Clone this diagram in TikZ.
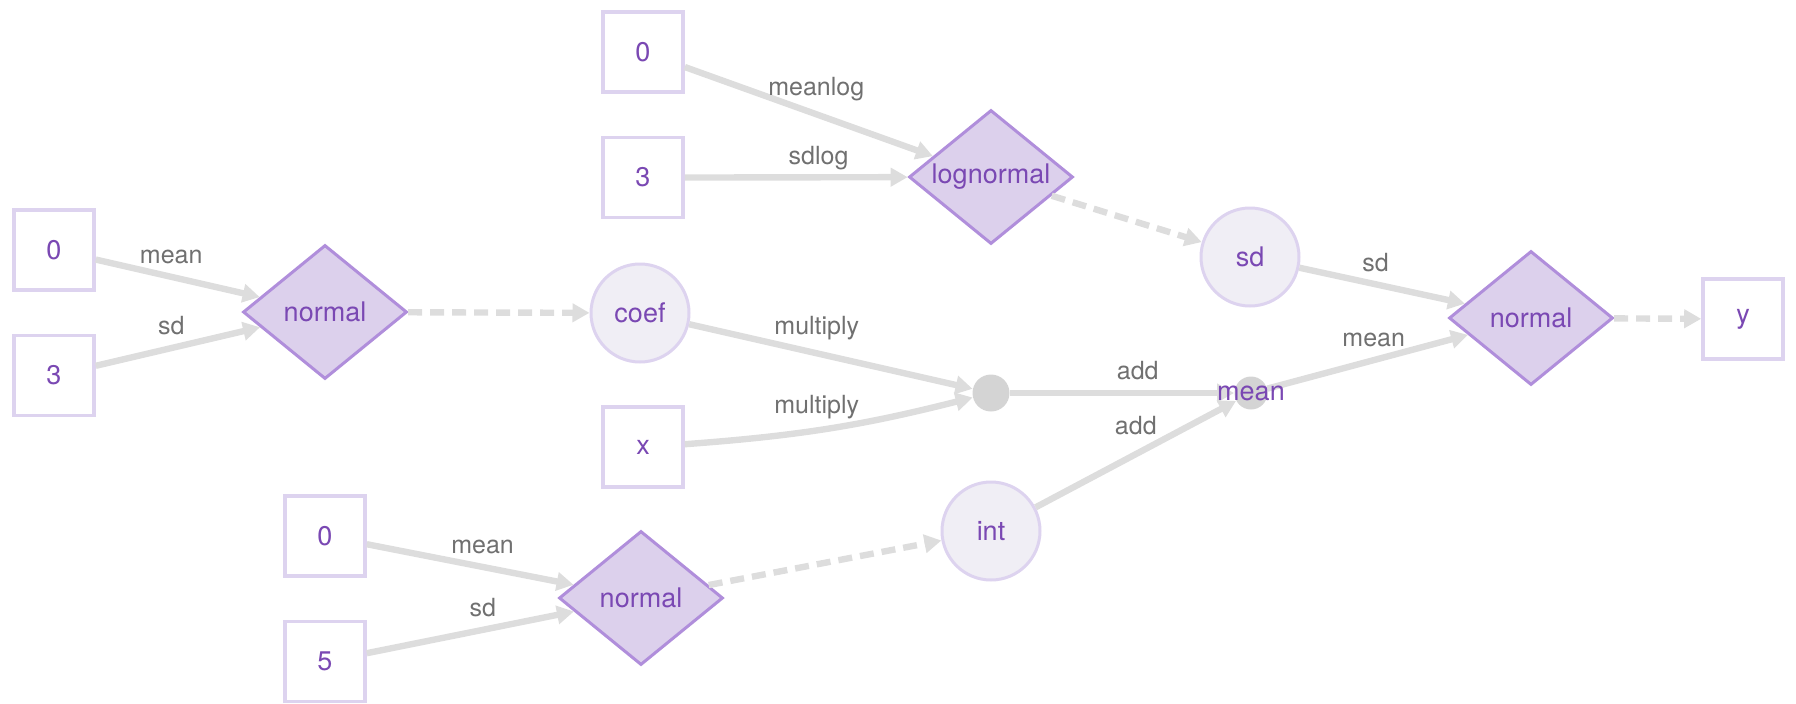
\documentclass[tikz,border=0pt]{standalone}
\usepackage{fontspec}
\setmainfont{TeX Gyre Heros}
\usetikzlibrary{arrows.meta,positioning,shapes.geometric}

\definecolor{boxline}{HTML}{DDD3EF}
\definecolor{nodetext}{HTML}{7A48B3}
\definecolor{distfill}{HTML}{DCD0EC}
\definecolor{distline}{HTML}{B08EDB}
\definecolor{varfill}{HTML}{F0EEF5}
\definecolor{edgegray}{HTML}{DDDDDD}
\definecolor{dotgray}{HTML}{D4D4D4}
\definecolor{lblgray}{HTML}{707070}

\begin{document}
\begin{tikzpicture}[
  x=0.5pt, y=-0.5pt,
  databox/.style={rectangle, draw=boxline, line width=1.8pt, fill=white,
                  minimum size=40pt, inner sep=0pt, text=nodetext,
                  font=\fontsize{13.5}{16}\selectfont},
  distbox/.style={diamond, draw=distline, line width=1.5pt, fill=distfill,
                  shape aspect=1.2, minimum width=82pt, minimum height=67pt,
                  inner sep=0pt, text=nodetext,
                  font=\fontsize{13.5}{16}\selectfont},
  varnode/.style={circle, draw=boxline, line width=1.5pt, fill=varfill,
                  minimum size=49pt, inner sep=0pt, text=nodetext,
                  font=\fontsize{13.5}{16}\selectfont},
  opdot/.style={circle, fill=dotgray, inner sep=0pt},
  vtxt/.style={text=nodetext, inner sep=0pt, font=\fontsize{13.5}{16}\selectfont},
  elab/.style={text=lblgray, inner sep=0pt, text depth=0pt, above=5pt,
               font=\fontsize{12.5}{15}\selectfont},
  arr/.style={draw=edgegray, line width=3.2pt, -{Triangle[length=8.5pt,width=9pt]}},
  darr/.style={arr, dash pattern=on 7pt off 4pt},
  node distance=21pt
]
\useasboundingbox (0,0) rectangle (1796,703);
% priors of coef
\node[databox] (cmean) at (54,250) {0};
\node[databox, below=of cmean] (csd) {3};
\node[distbox] (cnorm) at (325,312) {normal};
\node[varnode] (coef) at (640,313) {coef};
% priors of sd
\node[databox] (lmean) at (643,52) {0};
\node[databox, below=of lmean] (lsd) {3};
\node[distbox] (lnorm) at (991,177) {lognormal};
\node[varnode] (sd) at (1250,257) {sd};
% priors of int
\node[databox] (imean) at (325,536) {0};
\node[databox, below=of imean] (isd) {5};
\node[distbox] (inorm) at (641,598) {normal};
\node[varnode] (int) at (991,531) {int};
% linear predictor and likelihood
\node[databox] (x) at (643,447) {x};
\node[opdot, minimum size=18.5pt] (mult) at (991,393) {};
\node[opdot, minimum size=16.5pt] (mean) at (1251,393) {};
\node[distbox] (ynorm) at (1531,318) {normal};
\node[databox] (y) at (1743,319) {y};

\draw[arr] (cmean) -- node[elab, pos=.46]{mean} (cnorm);
\draw[arr] (csd) -- node[elab, pos=.46]{sd} (cnorm);
\draw[darr] (cnorm) -- (coef);
\draw[arr] (lmean) -- node[elab, pos=.53, above=8pt]{meanlog} (lnorm);
\draw[arr] (lsd) -- node[elab, pos=.6]{sdlog} (lnorm);
\draw[darr] (lnorm) -- (sd);
\draw[arr] (imean) -- node[elab, pos=.56]{mean} (inorm);
\draw[arr] (isd) -- node[elab, pos=.56]{sd} (inorm);
\draw[darr] (inorm) -- (int);
\draw[arr] (coef) -- node[elab, pos=.45, above=8pt]{multiply} (mult);
\draw[arr] (x) to[bend right=5] node[elab, pos=.45, above=7pt]{multiply} (mult);
\draw[arr] (mult) -- node[elab, pos=.57]{add} (mean);
\draw[arr] (int) -- node[elab, above=8pt]{add} (mean);
\draw[arr] (sd) -- node[elab, pos=.46]{sd} (ynorm);
\draw[arr] (mean) -- node[elab, pos=.53]{mean} (ynorm);
\draw[darr] (ynorm) -- (y);
\node[vtxt] (meantxt) at (mean) {mean};
\end{tikzpicture}
\end{document}
